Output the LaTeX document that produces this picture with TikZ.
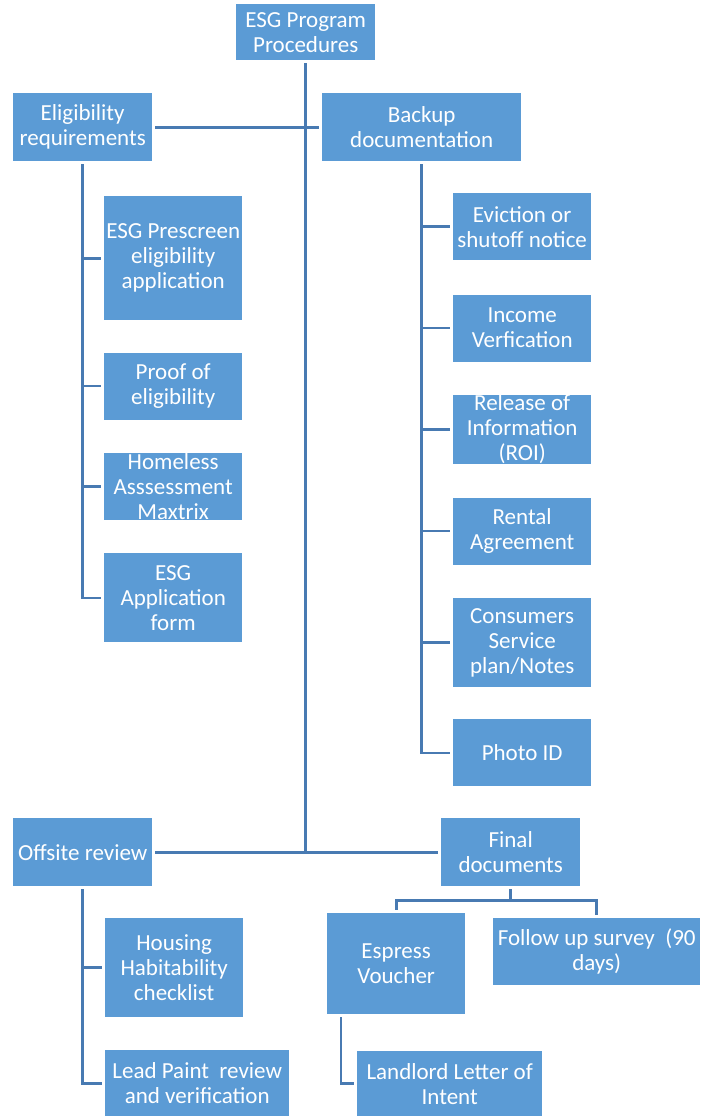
\documentclass[tikz,border=0pt]{standalone}
\usepackage{fontspec}
\setmainfont{Carlito}
\usetikzlibrary{positioning}
\definecolor{boxblue}{RGB}{91,155,213}
\definecolor{lineblue}{RGB}{72,122,178}

\begin{document}
\begin{tikzpicture}[
    x=1pt, y=1pt,
    node distance=33pt,
    box/.style={rectangle, fill=boxblue, text=white, align=center, inner sep=0pt, font=\fontsize{23}{25}\selectfont},
    head/.style={box, anchor=north west, minimum width=139pt, minimum height=68pt},
    item/.style={box, minimum width=138pt, minimum height=67pt},
    link/.style={draw=lineblue, line width=2.6pt, shorten <=3pt, shorten >=3pt},
    tick/.style={link, shorten <=0pt}
]
\useasboundingbox (0,0) rectangle (701,-1116);

% Root
\node[box, anchor=north west, minimum width=139pt, minimum height=56pt] (root) at (236,-4) {ESG Program\\Procedures};

% Main branches
\node[head] (elig) at (13,-93) {Eligibility\\requirements};
\node[head, minimum width=199pt] (backup) at (322,-93) {Backup\\documentation};
\node[head] (offsite) at (13,-818) {Offsite review};
\node[head] (final) at (441,-818) {Final\\documents};

% Eligibility items
\node[item, anchor=north west, minimum height=124pt] (prescreen) at (104,-196) {ESG Prescreen\\eligibility\\application};
\node[item, below=32pt of prescreen] (proof) {Proof of\\eligibility};
\node[item, below=of proof] (homeless) {Homeless\\Asssessment\\Maxtrix};
\node[item, below=of homeless, minimum height=89pt] (appform) {ESG\\Application\\form};

% Backup items
\node[item, anchor=north west] (eviction) at (453,-193) {Eviction or\\shutoff notice};
\node[item, below=34pt of eviction] (income) {Income\\Verfication};
\node[item, below=of income, minimum height=68pt] (release) {Release of\\Information\\(ROI)};
\node[item, below=of release] (rental) {Rental\\Agreement};
\node[item, below=of rental, minimum height=89pt] (consumers) {Consumers\\Service\\plan/Notes};
\node[item, below=32pt of consumers] (photo) {Photo ID};

% Offsite items
\node[item, anchor=north west, minimum height=99pt] (housing) at (105,-918) {Housing\\Habitability\\checklist};
\node[item, anchor=north west, minimum width=184pt, minimum height=66pt] (lead) at (105,-1050) {Lead Paint~~review\\and verification};

% Final items
\node[item, anchor=north west, minimum height=101pt] (espress) at (327,-913) {Espress\\Voucher};
\node[item, anchor=north west, minimum width=207pt] (follow) at (493,-918) {Follow up survey~~(90\\days)};
\node[item, anchor=north west, minimum width=185pt, minimum height=65pt] (landlord) at (357,-1051) {Landlord Letter of\\Intent};

% Trunk
\draw[link, shorten >=0pt] (root.south) -- (root.south |- offsite.east);
\draw[link] (elig.east) -- (backup.west);
\draw[link] (offsite.east) -- (final.west);

% Eligibility branch
\draw[link] (elig.south) |- (appform.west);
\foreach \n in {prescreen, proof, homeless}
    \draw[tick] (elig.south |- \n.west) -- (\n.west);

% Backup branch
\draw[link] (backup.south) |- (photo.west);
\foreach \n in {eviction, income, release, rental, consumers}
    \draw[tick] (backup.south |- \n.west) -- (\n.west);

% Offsite branch
\draw[link] (offsite.south) |- (lead.west);
\draw[tick] (offsite.south |- housing.west) -- (housing.west);

% Final branch
\coordinate (split) at ([yshift=-14pt]final.south);
\draw[link] (final.south) -- (split) -| (espress.north);
\draw[link, shorten <=0pt] (split) -| (follow.north);
\draw[link] ([xshift=14pt]espress.south west) |- (landlord.west);

\end{tikzpicture}
\end{document}
